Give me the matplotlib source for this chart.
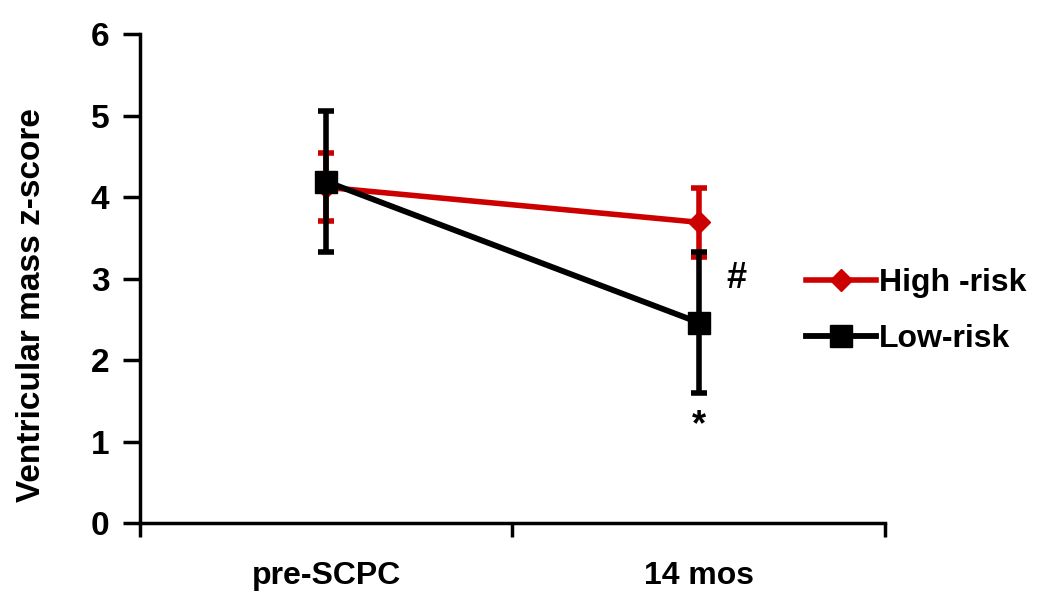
import numpy as np
import matplotlib.pyplot as plt

plt.rcParams['font.family'] = ['Liberation Sans', 'DejaVu Sans']
plt.rcParams['font.weight'] = 'bold'

# data
timepoints = ['pre-SCPC', '14 mos']
high_risk_mean = [4.12, 3.69]
high_risk_err = [0.42, 0.42]
low_risk_mean = [4.19, 2.46]
low_risk_err = [0.86, 0.86]

x = np.array([0.5, 1.5])

fig = plt.figure(figsize=(10.5, 6.1), dpi=100)
ax = fig.add_axes([0.1333, 0.1426, 0.7095, 0.8016])

ax.errorbar(x, high_risk_mean, yerr=high_risk_err, color='#cc0000', lw=4,
            marker='D', markersize=11, capsize=6, capthick=4, elinewidth=4,
            label='High -risk', zorder=2)
ax.errorbar(x, low_risk_mean, yerr=low_risk_err, color='black', lw=4.2,
            marker='s', markersize=16, capsize=6, capthick=4, elinewidth=4,
            label='Low-risk', zorder=3)

# significance marks
ax.text(x[1] + 0.1, 3.0, '#', fontsize=26, fontweight='bold', ha='center', va='center')
ax.text(x[1], 1.2, '*', fontsize=26, fontweight='bold', ha='center', va='center')

ax.set_xlim(0, 2)
ax.set_ylim(0, 6)
ax.set_xticks([0, 1, 2])
ax.set_xticklabels([])
ax.set_xticks(x, minor=True)
ax.set_xticklabels(timepoints, minor=True, fontsize=23, fontweight='bold')
ax.tick_params(axis='x', which='minor', length=0, pad=27)
ax.tick_params(axis='x', which='major', length=10, width=2.5)
ax.set_yticks(range(7))
ax.set_yticklabels([str(v) for v in range(7)], fontsize=24, fontweight='bold')
ax.tick_params(axis='y', length=12, width=2.5, pad=10)

for side in ['top', 'right']:
    ax.spines[side].set_visible(False)
for side in ['left', 'bottom']:
    ax.spines[side].set_linewidth(2.5)

ax.set_ylabel('Ventricular mass z-score', fontsize=24, fontweight='bold')
ax.yaxis.set_label_coords(-0.125, 0.445)

handles, labels = ax.get_legend_handles_labels()
handles = [h[0] for h in handles]
fig.legend(handles, labels, loc='center left', bbox_to_anchor=(0.74, 0.49),
           frameon=False, prop={'size': 23, 'weight': 'bold'},
           handlelength=2.2, handletextpad=0.1, labelspacing=0.8)

fig.savefig('out.png', dpi=100)
